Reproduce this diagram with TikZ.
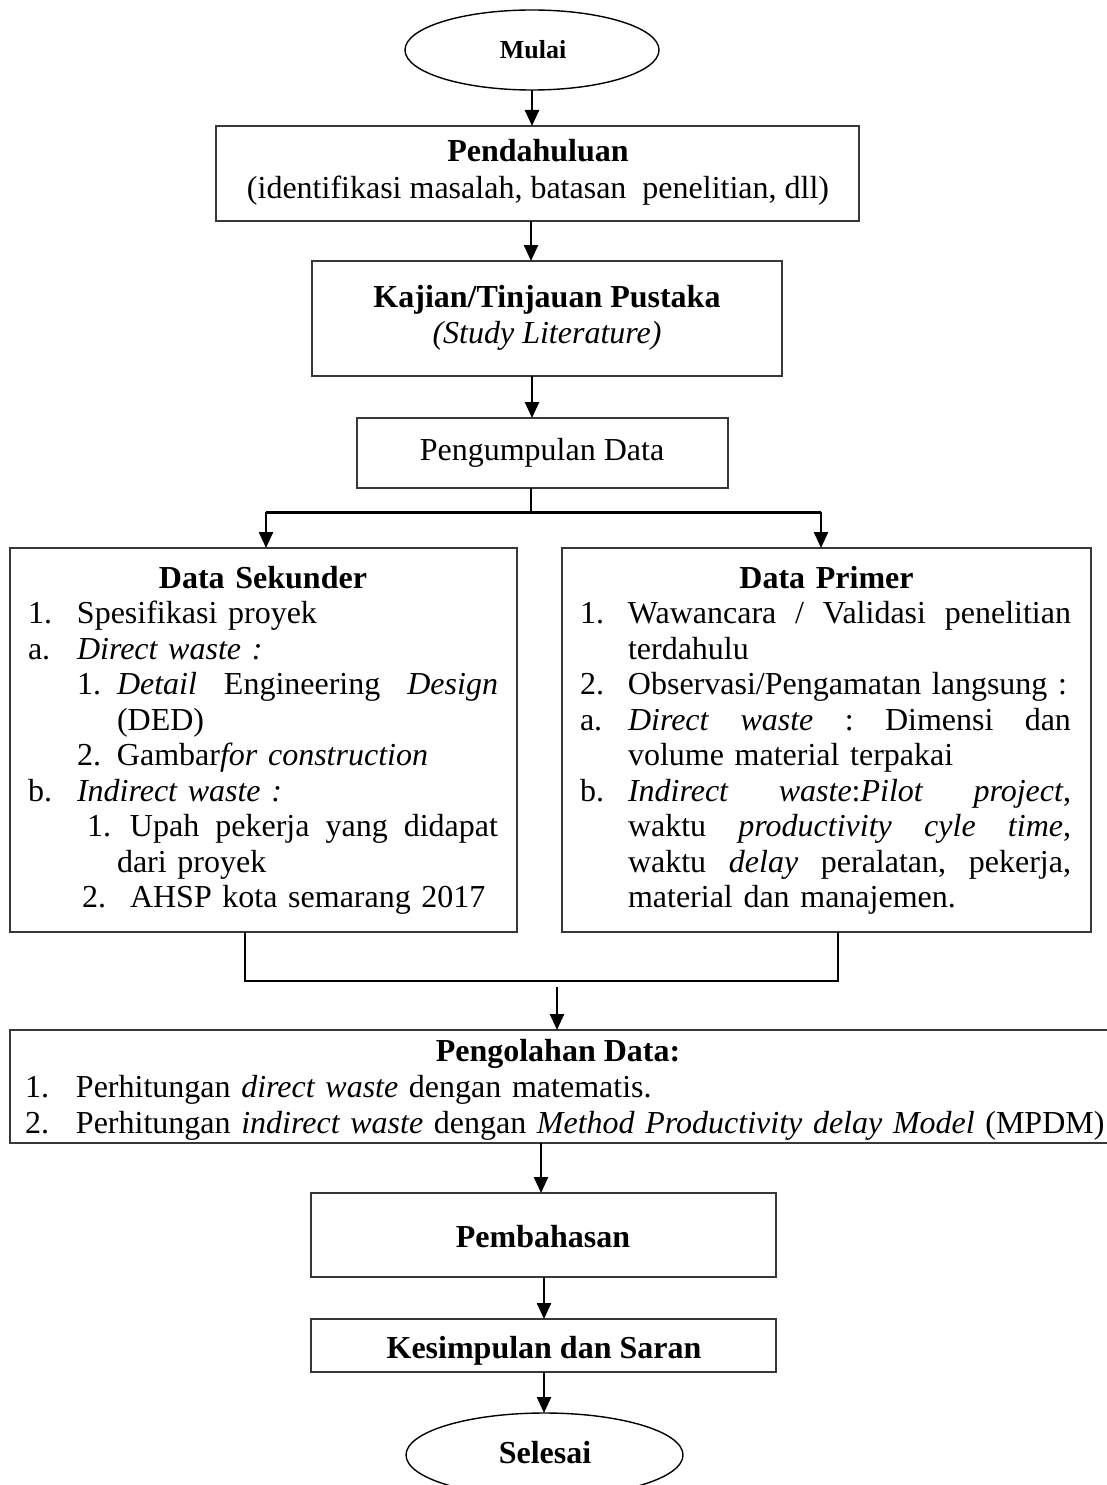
\documentclass[tikz,border=0pt]{standalone}
\usepackage{fontspec}
\setmainfont{Liberation Serif}
\usetikzlibrary{shapes.geometric,arrows.meta}
\definecolor{boxc}{HTML}{383838}
\newcommand{\jsp}{\hspace{0.25em plus 1fil}}
\newcommand{\jline}[2]{\hbox to #1{#2}}
\begin{document}
\begin{tikzpicture}[x=1pt,y=-1pt,
  box/.style={draw=boxc, line width=1.4pt, inner sep=0pt, outer sep=0pt},
  oval/.style={draw=black, line width=1.4pt, ellipse, inner sep=0pt, outer sep=0pt},
  txt/.style={inner sep=0pt, outer sep=0pt, anchor=base, font=\fontsize{32}{36}\selectfont},
  btxt/.style={txt, font=\bfseries\fontsize{32}{36}\selectfont},
  listtxt/.style={inner sep=0pt, outer sep=0pt, anchor=base west, align=left, font=\fontsize{32}{35.5}\selectfont},
  arr/.style={line width=2.4pt, -{Triangle[length=16pt,width=14pt]}},
  link/.style={line width=2.2pt},
  bar/.style={line width=3pt}
]
\fill[white] (0,0) rectangle (1107,1485);
\useasboundingbox (0,0) rectangle (1107,1485);

% shapes
\node[oval, minimum width=254, minimum height=80] (mulai) at (532,50) {};
\node[box, minimum width=643, minimum height=95] (pend) at (537.5,173.5) {};
\node[box, minimum width=470, minimum height=115] (kaj) at (547,318.5) {};
\node[box, minimum width=371, minimum height=70] (peng) at (542.5,453) {};
\node[box, minimum width=507, minimum height=384] (sek) at (263.5,740) {};
\node[box, minimum width=529, minimum height=384] (prim) at (826.5,740) {};
\node[box, minimum width=1099, minimum height=113] (olah) at (559.5,1086.5) {};
\node[box, minimum width=465, minimum height=84] (bahas) at (543.5,1235) {};
\node[box, minimum width=465, minimum height=53] (kes) at (543.5,1345.5) {};
\node[oval, minimum width=277, minimum height=84] (sel) at (544.5,1455) {};

% texts
\node[btxt, font=\bfseries\fontsize{26}{30}\selectfont] (mulaiT) at (533,59) {Mulai};
\node[btxt] (pendT) at (538,161) {Pendahuluan};
\node[txt] (pendS) at (538,198) {(identifikasi masalah, batasan\ \ penelitian, dll)};
\node[btxt] (kajT) at (547,307) {Kajian/Tinjauan Pustaka};
\node[txt] (kajS) at (547,343) {\textit{(Study Literature)}};
\node[txt] (pengT) at (542,460) {Pengumpulan Data};

\node[listtxt, text width=480pt] (sekT) at (28,588) {%
\makebox[470pt][c]{\bfseries Data Sekunder}\\
\makebox[49pt][l]{1.}Spesifikasi proyek\\
\makebox[49pt][l]{a.}\textit{Direct waste :}\\
\hspace*{49pt}\makebox[40pt][l]{1.}\jline{381pt}{\textit{Detail}\jsp Engineering\jsp \textit{Design}}\\
\hspace*{89pt}(DED)\\
\hspace*{49pt}\makebox[40pt][l]{2.}Gambar\textit{for construction}\\
\makebox[49pt][l]{b.}\textit{Indirect waste :}\\
\hspace*{59pt}\makebox[43pt][l]{1.}\jline{368pt}{Upah\jsp pekerja\jsp yang\jsp didapat}\\
\hspace*{89pt}dari proyek\\
\hspace*{54pt}\makebox[48pt][l]{2.}AHSP kota semarang 2017};

\node[listtxt, text width=500pt] (primT) at (580,588) {%
\makebox[493pt][c]{\bfseries Data Primer}\\
\makebox[48pt][l]{1.}\jline{443pt}{Wawancara\jsp /\jsp Validasi\jsp penelitian}\\
\hspace*{48pt}terdahulu\\
\makebox[48pt][l]{2.}Observasi/Pengamatan langsung :\\
\makebox[48pt][l]{a.}\jline{443pt}{\textit{Direct}\jsp\textit{waste}\jsp :\jsp Dimensi\jsp dan}\\
\hspace*{48pt}volume material terpakai\\
\makebox[48pt][l]{b.}\jline{443pt}{\textit{Indirect}\jsp\textit{waste}:\textit{Pilot}\jsp\textit{project},}\\
\hspace*{48pt}\jline{443pt}{waktu\jsp\textit{productivity}\jsp\textit{cyle}\jsp\textit{time},}\\
\hspace*{48pt}\jline{443pt}{waktu\jsp\textit{delay}\jsp peralatan,\jsp pekerja,}\\
\hspace*{48pt}material dan manajemen.};

\node[btxt] (olahT) at (558,1061) {Pengolahan Data:};
\node[listtxt, text width=1200pt, font=\fontsize{32}{36}\selectfont] (olahL) at (25,1097) {%
\mbox{\makebox[51pt][l]{1.}Perhitungan \textit{direct waste} dengan matematis.}\\
\mbox{\makebox[51pt][l]{2.}Perhitungan \textit{indirect waste} dengan \textit{Method Productivity delay Model} (MPDM)}};

\node[btxt] (bahasT) at (543,1247) {Pembahasan};
\node[btxt] (kesT) at (544,1358) {Kesimpulan dan Saran};
\node[btxt] (selT) at (545,1463) {Selesai};

% junction coordinates
\coordinate (bj) at (531,512);
\coordinate (brL) at (266,512);
\coordinate (brR) at (821,512);
\coordinate (mL) at (245,981);
\coordinate (mR) at (838,981);
\coordinate (mA) at (557,987);
\coordinate (ax) at (541,0);
\coordinate (bx) at (544,0);

% connectors
\draw[arr] (mulai.south) -- (mulai.south |- pend.north);
\draw[arr] (pend.south -| bj) -- (kaj.north -| bj);
\draw[arr] (kaj.south -| mulai.south) -- (peng.north -| mulai.south);
\draw[link] (peng.south -| bj) -- (bj);
\draw[bar] (brL) -- (brR);
\draw[arr] (brL) -- (brL |- sek.north);
\draw[arr] (brR) -- (brR |- prim.north);
\draw[link] (sek.south -| mL) -- (mL) -- (mR) -- (prim.south -| mR);
\draw[arr] (mA) -- (mA |- olah.north);
\draw[arr] (olah.south -| ax) -- (bahas.north -| ax);
\draw[arr] (bahas.south -| bx) -- (kes.north -| bx);
\draw[arr] (kes.south -| bx) -- (sel.north -| bx);
\end{tikzpicture}
\end{document}
